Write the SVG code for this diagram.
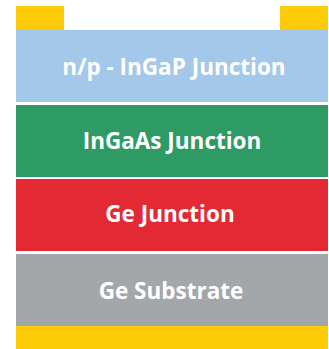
<svg xmlns="http://www.w3.org/2000/svg" width="329" height="349" viewBox="0 0 329 349">
<style>
.lbl{font-family:"Open Sans","Noto Sans","Liberation Sans",sans-serif;font-weight:bold;font-size:22.5px;fill:#ffffff;text-anchor:middle}
.contact{fill:#fdcb07}
</style>
<rect width="329" height="349" fill="#ffffff"/>
<g id="contact-left"><rect class="contact" x="16" y="6" width="48" height="24"/></g>
<g id="contact-right"><rect class="contact" x="280" y="6" width="48" height="24"/></g>
<g id="ingap"><rect x="16" y="30" width="312" height="72" fill="#a3c8ea"/><text class="lbl" x="174" y="75">n/p - InGaP Junction</text></g>
<g id="ingaas"><rect x="16" y="105" width="312" height="72" fill="#2e9a64"/><text class="lbl" x="172" y="148.5">InGaAs Junction</text></g>
<g id="ge-junction"><rect x="16" y="179" width="312" height="72" fill="#e32934"/><text class="lbl" x="170" y="222">Ge Junction</text></g>
<g id="ge-substrate"><rect x="16" y="254" width="312" height="72" fill="#a4a7aa"/><text class="lbl" x="171" y="299">Ge Substrate</text></g>
<g id="back-contact"><rect class="contact" x="16" y="326" width="312" height="23"/></g>
</svg>
